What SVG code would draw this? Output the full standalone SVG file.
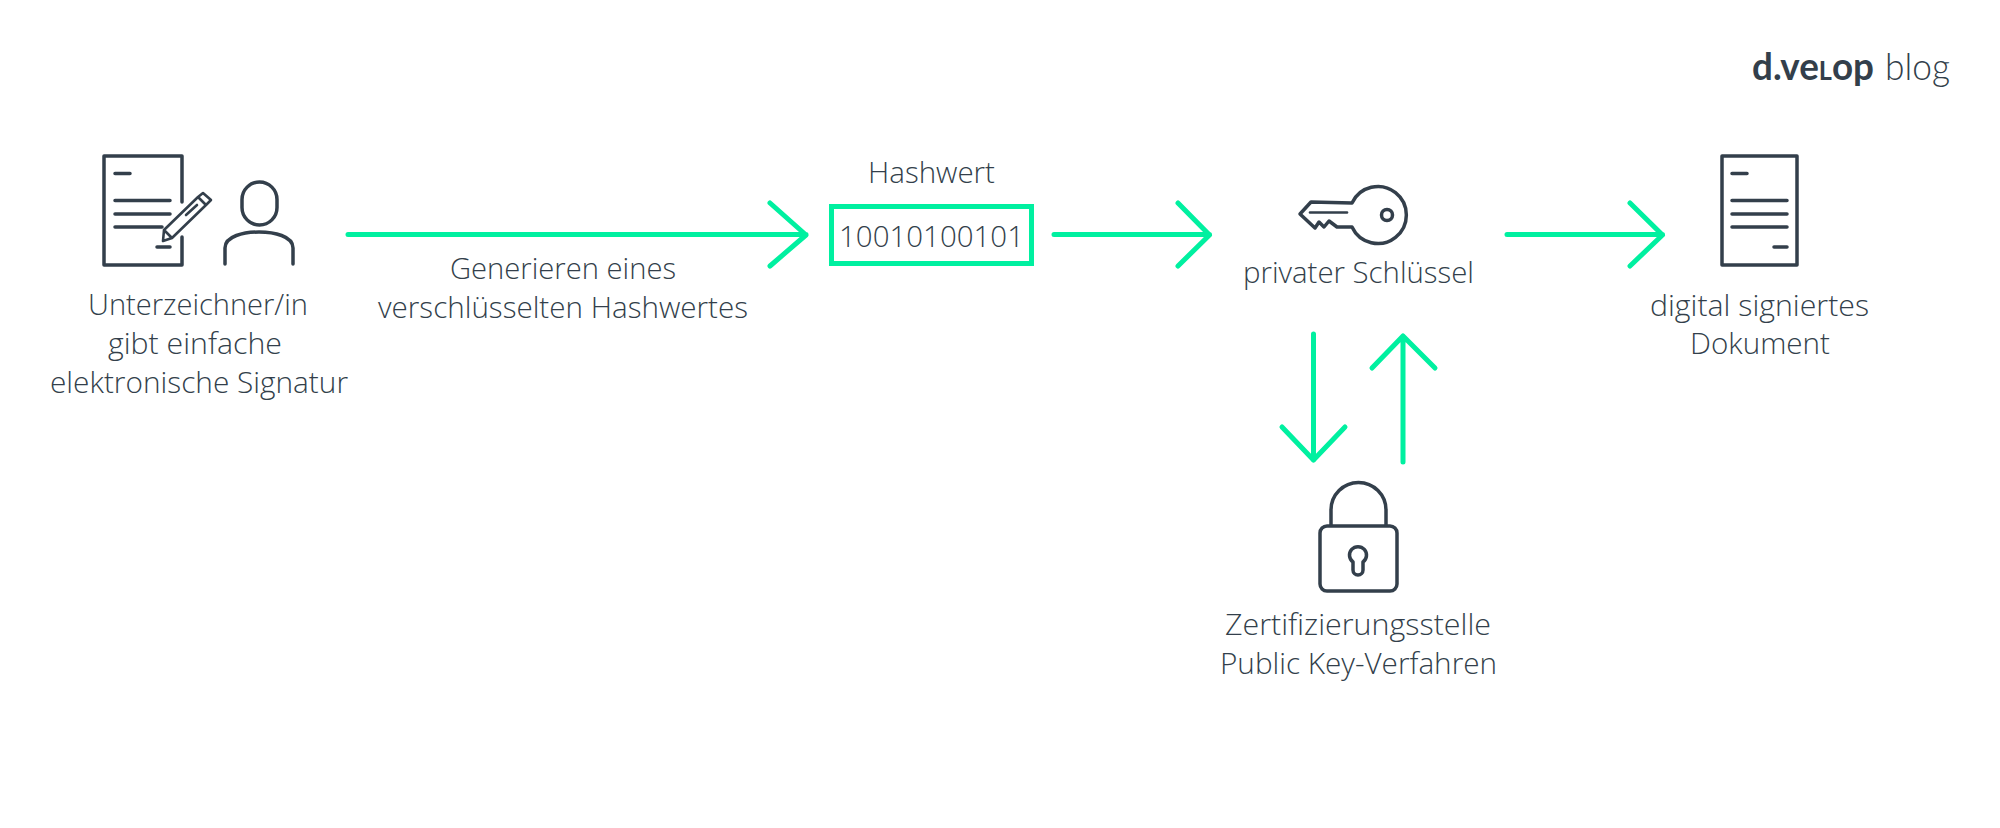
<svg xmlns="http://www.w3.org/2000/svg" width="2000" height="828" viewBox="0 0 2000 828">
<style>
.t{font-family:"Open Sans","Noto Sans","Liberation Sans",sans-serif;font-weight:300;font-size:29px;fill:#333f4b;text-anchor:start}
.i{fill:none;stroke:#333f4b;stroke-width:3.5;stroke-linecap:round;stroke-linejoin:round}
.p{stroke-width:2.6}
.c{fill:none;stroke:#00f0a0;stroke-width:5;stroke-linecap:round;stroke-linejoin:round}
.l{font-family:"Lato","Open Sans",sans-serif;font-size:38px;fill:#333f4b}
</style>
<rect width="2000" height="828" fill="#fff"/>
<g id="logo">
<text class="l" x="1752" y="80" textLength="122" lengthAdjust="spacingAndGlyphs" font-weight="700">d.ve<tspan font-size="26">L</tspan>op</text>
<text class="l" x="1885" y="80" textLength="65" lengthAdjust="spacingAndGlyphs" font-weight="300" font-size="35">blog</text>
</g>
<g id="connectors" class="c">
<path d="M348 234.500H806M770 203L806 235L770 266"/>
<path d="M1054 234.500H1209.500M1178 203L1209.500 235L1178 266"/>
<path d="M1507 234.500H1662.500M1630 203L1662.500 235L1630 266"/>
<path d="M1313.500 334V460M1282 427L1313.500 460L1345 427"/>
<path d="M1403 462V336M1372 368L1403 336L1435 368"/>
</g>
<g id="signer">
<path class="i" d="M182 202V156H104V265H182V237"/>
<path class="i" d="M115 173.500H130M115 200.500H170M115 214H170M115 227H162M157 247H170"/>
<path class="i p" d="M163 241L164 230L198 197L206 205L172 238ZM164 230L172 238M198 197L203 193L211 200L206 205M197 205L186 215"/>
<rect class="i" x="242" y="182" width="35" height="43" rx="17.500"/>
<path class="i" d="M225 264V248C225 236 244 232 259 232C274 232 293 236 293 248V264"/>
<text class="t" x="88" y="315" textLength="220" lengthAdjust="spacingAndGlyphs">Unterzeichner/in</text>
<text class="t" x="108" y="354" textLength="174" lengthAdjust="spacingAndGlyphs">gibt einfache</text>
<text class="t" x="50" y="393" textLength="298" lengthAdjust="spacingAndGlyphs">elektronische Signatur</text>
</g>
<g id="generate">
<text class="t" x="450" y="279" textLength="226" lengthAdjust="spacingAndGlyphs">Generieren eines</text>
<text class="t" x="378" y="318" textLength="370" lengthAdjust="spacingAndGlyphs">verschlüsselten Hashwertes</text>
</g>
<g id="hash">
<text class="t" x="868" y="183" textLength="127" lengthAdjust="spacingAndGlyphs">Hashwert</text>
<rect x="831.500" y="206.500" width="200" height="57" fill="none" stroke="#00f0a0" stroke-width="5"/>
<text class="t" x="839" y="247" textLength="185" lengthAdjust="spacingAndGlyphs">10010100101</text>
</g>
<g id="key">
<path class="i" d="M1352 203A28.500 28.500 0 1 1 1352 227L1337 227L1329 221L1324 227L1319 222L1315 228L1300 214L1311 202Z"/>
<circle class="i" cx="1387" cy="215" r="5.500"/>
<path class="i p" d="M1310 212.500H1347"/>
<text class="t" x="1243" y="283" textLength="231" lengthAdjust="spacingAndGlyphs">privater Schlüssel</text>
</g>
<g id="lock">
<rect class="i" x="1320" y="526" width="77" height="65" rx="7"/>
<path class="i" d="M1331 525V510A27.500 27.500 0 0 1 1386 510V525"/>
<path class="i" d="M1353 562V570A5 5 0 0 0 1363 570V562A8.500 8.500 0 1 0 1353 562Z"/>
<text class="t" x="1225" y="635" textLength="266" lengthAdjust="spacingAndGlyphs">Zertifizierungsstelle</text>
<text class="t" x="1220" y="674" textLength="277" lengthAdjust="spacingAndGlyphs">Public Key-Verfahren</text>
</g>
<g id="signed">
<rect class="i" x="1722" y="156" width="75" height="109"/>
<path class="i" d="M1732 173.500H1747M1732 200.500H1787M1732 214H1787M1732 227H1787M1774 247H1787"/>
<text class="t" x="1650" y="316" textLength="219" lengthAdjust="spacingAndGlyphs">digital signiertes</text>
<text class="t" x="1690" y="354" textLength="140" lengthAdjust="spacingAndGlyphs">Dokument</text>
</g>
</svg>
